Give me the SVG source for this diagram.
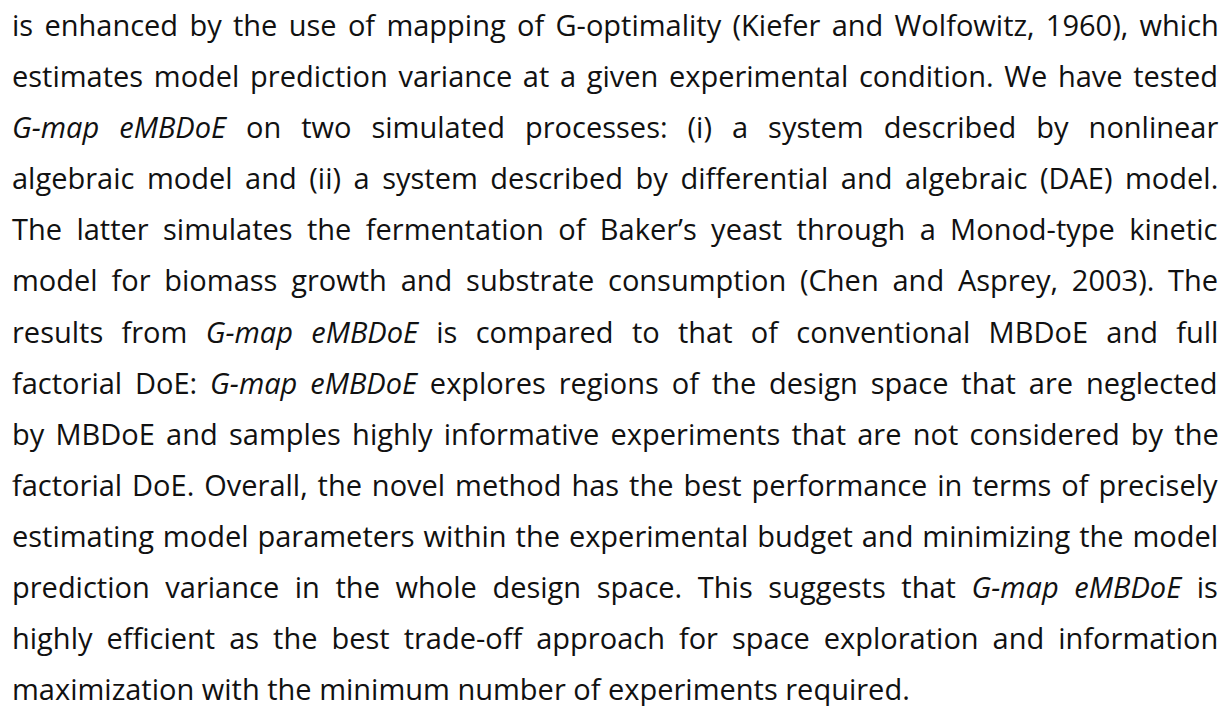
<svg xmlns="http://www.w3.org/2000/svg" width="1224" height="706" viewBox="0 0 1224 706">
<style>
text{font-family:"Open Sans","Noto Sans","Liberation Sans",sans-serif;font-size:29px;fill:#111;}
.i{font-style:italic;}
</style>
<rect width="1224" height="706" fill="#fff"/>
<g id="paragraph">
<text x="12" y="36" word-spacing="3.77">is enhanced by the use of mapping of G-optimality (Kiefer and Wolfowitz, 1960), which</text>
<text x="12" y="87.1" word-spacing="3.09">estimates model prediction variance at a given experimental condition. We have tested</text>
<text x="12" y="138.2" word-spacing="12.45"><tspan class="i">G-map eMBDoE</tspan> on two simulated processes: (i) a system described by nonlinear</text>
<text x="12" y="189.2" word-spacing="5">algebraic model and (ii) a system described by differential and algebraic (DAE) model.</text>
<text x="12" y="240.3" word-spacing="6.82">The latter simulates the fermentation of Baker’s yeast through a Monod-type kinetic</text>
<text x="12" y="291.4" word-spacing="6.27">model for biomass growth and substrate consumption (Chen and Asprey, 2003). The</text>
<text x="12" y="342.5" word-spacing="10.75">results from <tspan class="i">G-map eMBDoE</tspan> is compared to that of conventional MBDoE and full</text>
<text x="12" y="393.6" word-spacing="5.33">factorial DoE: <tspan class="i">G-map eMBDoE</tspan> explores regions of the design space that are neglected</text>
<text x="12" y="444.6" word-spacing="3.67">by MBDoE and samples highly informative experiments that are not considered by the</text>
<text x="12" y="495.7" word-spacing="2.38">factorial DoE. Overall, the novel method has the best performance in terms of precisely</text>
<text x="12" y="546.8" word-spacing="1.4">estimating model parameters within the experimental budget and minimizing the model</text>
<text x="12" y="597.9" word-spacing="8.08">prediction variance in the whole design space. This suggests that <tspan class="i">G-map eMBDoE</tspan> is</text>
<text x="12" y="649" word-spacing="6.45">highly efficient as the best trade-off approach for space exploration and information</text>
<text x="12" y="700">maximization with the minimum number of experiments required.</text>
</g>
</svg>
